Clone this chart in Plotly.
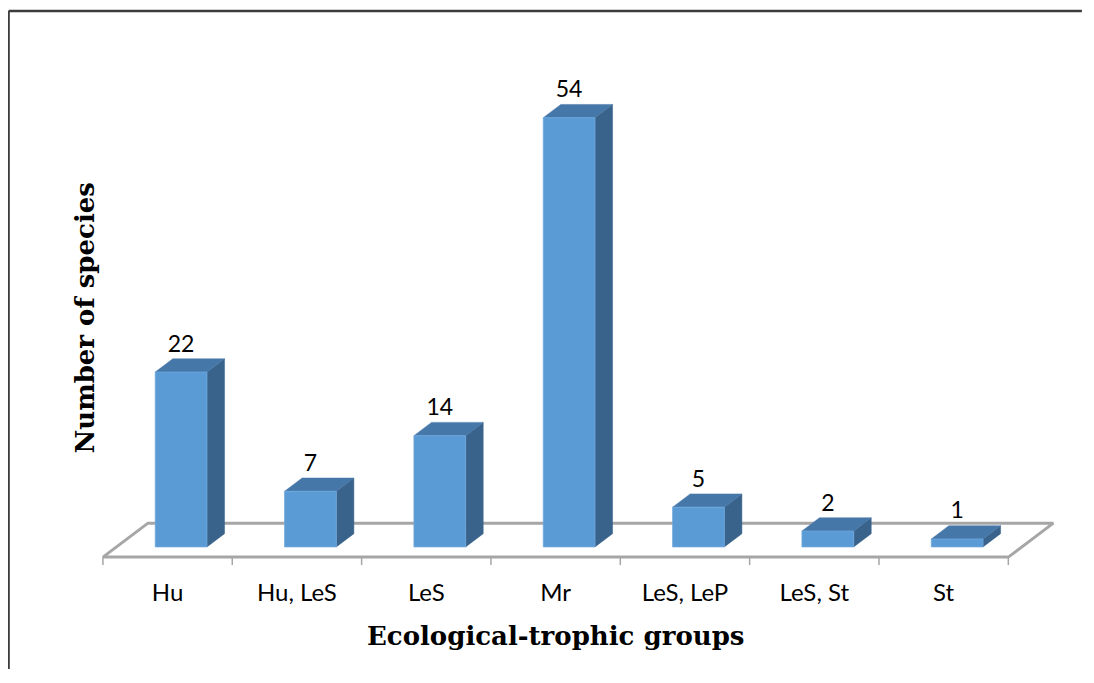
import plotly.graph_objects as go

# ---------------- data ----------------
categories = ["Hu", "Hu, LeS", "LeS", "Mr", "LeS, LeP", "LeS, St", "St"]
species_counts = [22, 7, 14, 54, 5, 2, 1]
x_title = "Ecological-trophic groups"
y_title = "Number of species"

# ---------------- geometry / style ----------------
OFF = 8                       # default page body margin
W, H = 1094 - 2 * OFF - 4, 683 - 2 * OFF - 6
X0_PX, UX = 168.0, 129.3     # screen pixel of first category centre, px per category
Y0_PX, UY = 547.0, 7.95      # screen pixel of value 0, px per unit
XR = (-0.6, 7.0)
YR = (-2.4, 60.0)
ML = (X0_PX - OFF) + UX * XR[0]
MR = W - ((X0_PX - OFF) + UX * XR[1])
MT = (Y0_PX - OFF) - UY * YR[1]
MB = H - ((Y0_PX - OFF) - UY * YR[0])
PW, PH = W - ML - MR, H - MT - MB

DX = 45 / UX          # floor depth in x units
DY = 34 / UY          # floor depth in y units
T0, T1 = 0.30, 0.69   # bar front / back position within depth
BW = 0.40             # bar width (category units)
LABEL_GAP = 13 / UY

FRONT = "#5B9BD5"
TOP = "#4677A9"
SIDE = "#3A638C"
FLOOR = "#A6A6A6"

def px_to_paper_x(px):
    return (px - OFF - ML) / PW

def py_to_paper_y(py):
    return (H - MB - (py - OFF)) / PH

n = len(categories)
idx = list(range(n))
floor_y = -T0 * DY
ddx, ddy = (T1 - T0) * DX, (T1 - T0) * DY

fig = go.Figure()

# floor
fx = [-0.5, n - 0.5, n - 0.5 + DX, -0.5 + DX, -0.5]
fy = [floor_y, floor_y, floor_y + DY, floor_y + DY, floor_y]
fig.add_trace(go.Scatter(x=fx, y=fy, mode="lines",
                         line=dict(color=FLOOR, width=3), hoverinfo="skip"))

# tick marks at category boundaries
tx, ty = [], []
for k in range(n + 1):
    xb = k - 0.5
    tx += [xb, xb, None]
    ty += [floor_y, floor_y - 1.0, None]
fig.add_trace(go.Scatter(x=tx, y=ty, mode="lines",
                         line=dict(color=FLOOR, width=1.5), hoverinfo="skip"))

# bars (front, side, top faces)
sx, sy, qx, qy, frx, fry = [], [], [], [], [], []
for i, v in zip(idx, species_counts):
    xc = i + T0 * DX
    xl, xr = xc - BW / 2, xc + BW / 2
    frx += [xl, xr, xr, xl, xl, None]
    fry += [0, 0, v, v, 0, None]
    sx += [xr, xr + ddx, xr + ddx, xr, xr, None]
    sy += [0, ddy, v + ddy, v, 0, None]
    qx += [xl, xr, xr + ddx, xl + ddx, xl, None]
    qy += [v, v, v + ddy, v + ddy, v, None]

fig.add_trace(go.Scatter(x=sx, y=sy, fill="toself", fillcolor=SIDE, mode="lines",
                         line=dict(color=SIDE, width=0.5), hoverinfo="skip"))
fig.add_trace(go.Scatter(x=qx, y=qy, fill="toself", fillcolor=TOP, mode="lines",
                         line=dict(color=TOP, width=0.5), hoverinfo="skip"))
fig.add_trace(go.Scatter(x=frx, y=fry, fill="toself", fillcolor=FRONT, mode="lines",
                         line=dict(color="#6FA8DC", width=0.8), hoverinfo="skip"))

# data labels
fig.add_trace(go.Scatter(
    x=[i + T0 * DX for i in idx],
    y=[v + ddy + LABEL_GAP for v in species_counts],
    text=[str(v) for v in species_counts],
    mode="text", textposition="middle center",
    textfont=dict(family="Lato", size=23, color="#000000"),
    hoverinfo="skip"))

fig.update_layout(
    width=W, height=H,
    margin=dict(l=ML, r=MR, t=MT, b=MB, pad=0),
    paper_bgcolor="white", plot_bgcolor="white",
    showlegend=False,
    xaxis=dict(range=list(XR), tickvals=idx, ticktext=categories,
               ticks="", showgrid=False, zeroline=False, showline=False,
               ticklabelstandoff=10,
               tickfont=dict(family="Lato", size=24, color="#000000")),
    yaxis=dict(range=list(YR), showticklabels=False, ticks="",
               showgrid=False, zeroline=False, showline=False),
    annotations=[
        dict(text=x_title, xref="paper", yref="paper",
             x=px_to_paper_x(556), y=py_to_paper_y(636),
             xanchor="center", yanchor="middle", showarrow=False,
             font=dict(family="DejaVu Serif", size=26, color="#000000",
                       weight="bold")),
        dict(text=y_title, xref="paper", yref="paper",
             x=px_to_paper_x(85), y=py_to_paper_y(318),
             xanchor="center", yanchor="middle", showarrow=False, textangle=-90,
             font=dict(family="DejaVu Serif", size=26, color="#000000",
                       weight="bold")),
    ],
    shapes=[
        dict(type="line", xref="paper", yref="paper",
             x0=px_to_paper_x(9), y0=py_to_paper_y(11),
             x1=px_to_paper_x(OFF + W), y1=py_to_paper_y(11),
             line=dict(color="#3C3C3C", width=2.5)),
        dict(type="line", xref="paper", yref="paper",
             x0=px_to_paper_x(9), y0=py_to_paper_y(11),
             x1=px_to_paper_x(9), y1=py_to_paper_y(OFF + H),
             line=dict(color="#3C3C3C", width=2.5)),
    ],
)

fig.write_html("out.html")
